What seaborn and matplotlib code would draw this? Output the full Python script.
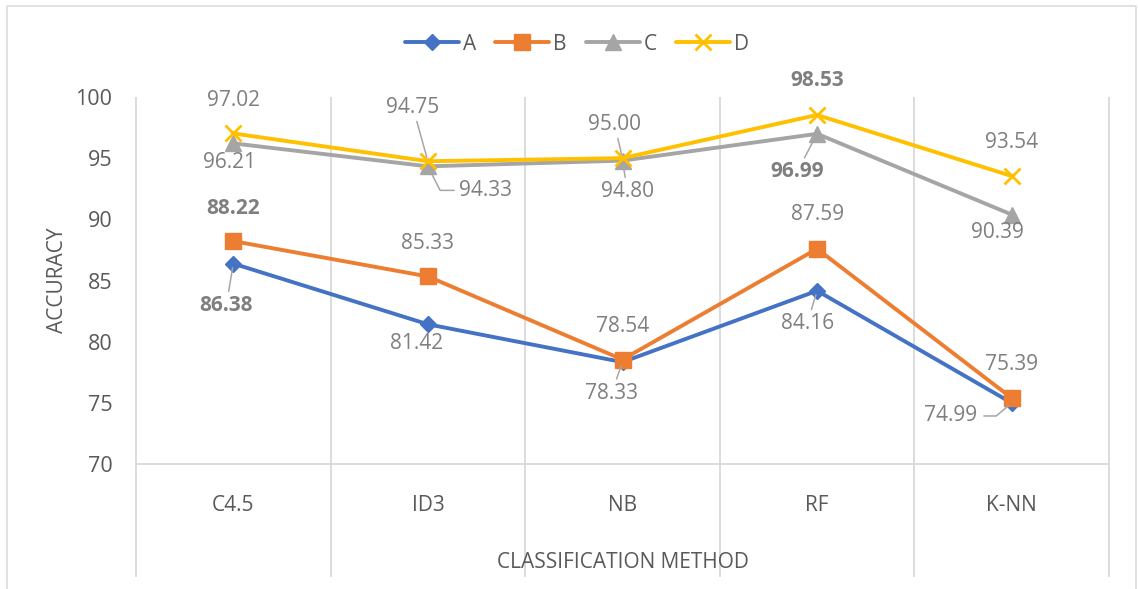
import numpy as np
import pandas as pd
import matplotlib
matplotlib.use('Agg')
import matplotlib.pyplot as plt
import seaborn as sns
from matplotlib.lines import Line2D

# data
methods = ['C4.5', 'ID3', 'NB', 'RF', 'K-NN']
series_names = ['A', 'B', 'C', 'D']
acc_a = [86.38, 81.42, 78.33, 84.16, 74.99]
acc_b = [88.22, 85.33, 78.54, 87.59, 75.39]
acc_c = [96.21, 94.33, 94.80, 96.99, 90.39]
acc_d = [97.02, 94.75, 95.00, 98.53, 93.54]
y_ticks = [70, 75, 80, 85, 90, 95, 100]

df = pd.DataFrame({
    'method': methods * 4,
    'series': np.repeat(series_names, len(methods)),
    'accuracy': acc_a + acc_b + acc_c + acc_d,
})

colors = {'A': '#4472c4', 'B': '#ed7d31', 'C': '#a5a5a5', 'D': '#ffc000'}
markers = {'A': 'D', 'B': 's', 'C': '^', 'D': 'x'}
msizes = {'A': 8.5, 'B': 11, 'C': 12, 'D': 12}

# label placement: (dx, dy) in pixels, screen y downwards, leader type
label_pos = {
    'A': [(-7, 42, 'line'), (-11, 19, None), (-11, 31, 'line'),
          (-10, 33, 'line'), (-61, 13, 'elbowL')],
    'B': [(0, -33, None), (0, -33, None), (0, -33, None),
          (0, -34, None), (0, -34, None)],
    'C': [(-4, 19, None), (58, 24, 'elbowR'), (5, 31, 'line'),
          (-20, 38, 'line'), (-14, 18, None)],
    'D': [(0, -33, None), (-15, -54, 'line'), (-8, -34, 'line'),
          (0, -34, None), (0, -34, None)],
}
bold_labels = {('A', 0), ('B', 0), ('C', 3), ('D', 3)}

sns.set_theme(style='white')
plt.rcParams['font.family'] = ['Open Sans', 'DejaVu Sans']

fig = plt.figure(figsize=(11.38, 5.89), dpi=100)
ax = fig.add_axes([136 / 1138, 1 - 464 / 589, 973 / 1138, 367 / 589])

for name in series_names:
    sub = df[df['series'] == name]
    sns.lineplot(data=sub, x='method', y='accuracy', color=colors[name],
                 marker=markers[name], ms=msizes[name], lw=2.8,
                 mec=colors[name], mfc=colors[name], mew=2 if name == 'D' else 1,
                 label=name, ax=ax, sort=False)

ax.set_xlim(-0.5, len(methods) - 0.5)
ax.set_ylim(70, 100)
ax.set_yticks(y_ticks)
for s in ax.spines.values():
    s.set_visible(False)
ax.spines['bottom'].set_visible(True)
ax.spines['bottom'].set_color('#d9d9d9')
ax.spines['bottom'].set_linewidth(1.3)

# category separators extending into the label area
ax.vlines(np.arange(-0.5, len(methods)), -0.308, 1.0, colors='#d9d9d9',
          lw=1.3, transform=ax.get_xaxis_transform(), clip_on=False, zorder=0)

ax.tick_params(axis='y', labelsize=15.5, labelcolor='#595959', length=0, pad=17)
ax.tick_params(axis='x', labelsize=15, labelcolor='#595959', length=0, pad=22)
ax.set_xlabel('CLASSIFICATION METHOD', fontsize=15, color='#595959', labelpad=26)
ax.set_ylabel('ACCURACY', fontsize=15, color='#595959')
ax.yaxis.set_label_coords(-0.07, 0.5)

# data labels
all_vals = {'A': acc_a, 'B': acc_b, 'C': acc_c, 'D': acc_d}
for name in series_names:
    for i, v in enumerate(all_vals[name]):
        dx, dy, lead = label_pos[name][i]
        arrow = None
        if lead == 'line':
            arrow = dict(arrowstyle='-', color='#a6a6a6', lw=1.1,
                         shrinkA=2, shrinkB=3)
        elif lead == 'elbowR':
            arrow = dict(arrowstyle='-', color='#a6a6a6', lw=1.1,
                         shrinkA=3, shrinkB=3, relpos=(0, 0.5),
                         connectionstyle='angle,angleA=0,angleB=-63,rad=0')
        elif lead == 'elbowL':
            arrow = dict(arrowstyle='-', color='#a6a6a6', lw=1.1,
                         shrinkA=4, shrinkB=3, relpos=(1, 0.5),
                         connectionstyle='angle,angleA=0,angleB=40,rad=0')
        ax.annotate(f'{v:.2f}', xy=(i, v), xytext=(dx, -dy),
                    textcoords='offset pixels', ha='center', va='center',
                    fontsize=15, color='#7f7f7f',
                    fontweight='bold' if (name, i) in bold_labels else 'normal',
                    bbox=dict(boxstyle='square,pad=0.05', fc='none', ec='none'),
                    arrowprops=arrow, zorder=5)

handles, labels = ax.get_legend_handles_labels()
ax.legend(handles, labels, loc='center', bbox_to_anchor=(577 / 1138, 1 - 44 / 589),
          bbox_transform=fig.transFigure, ncol=4, frameon=False,
          fontsize=15, labelcolor='#595959', handlelength=2.6,
          handletextpad=0.2, columnspacing=0.9)

# outer chart frame
fig.add_artist(Line2D([7 / 1138, 7 / 1138, 1136 / 1138, 1136 / 1138],
                      [0, 1 - 6 / 589, 1 - 6 / 589, 0],
                      transform=fig.transFigure, color='#d9d9d9', lw=1.1))

fig.savefig('out.png', dpi=100)
plt.close(fig)
